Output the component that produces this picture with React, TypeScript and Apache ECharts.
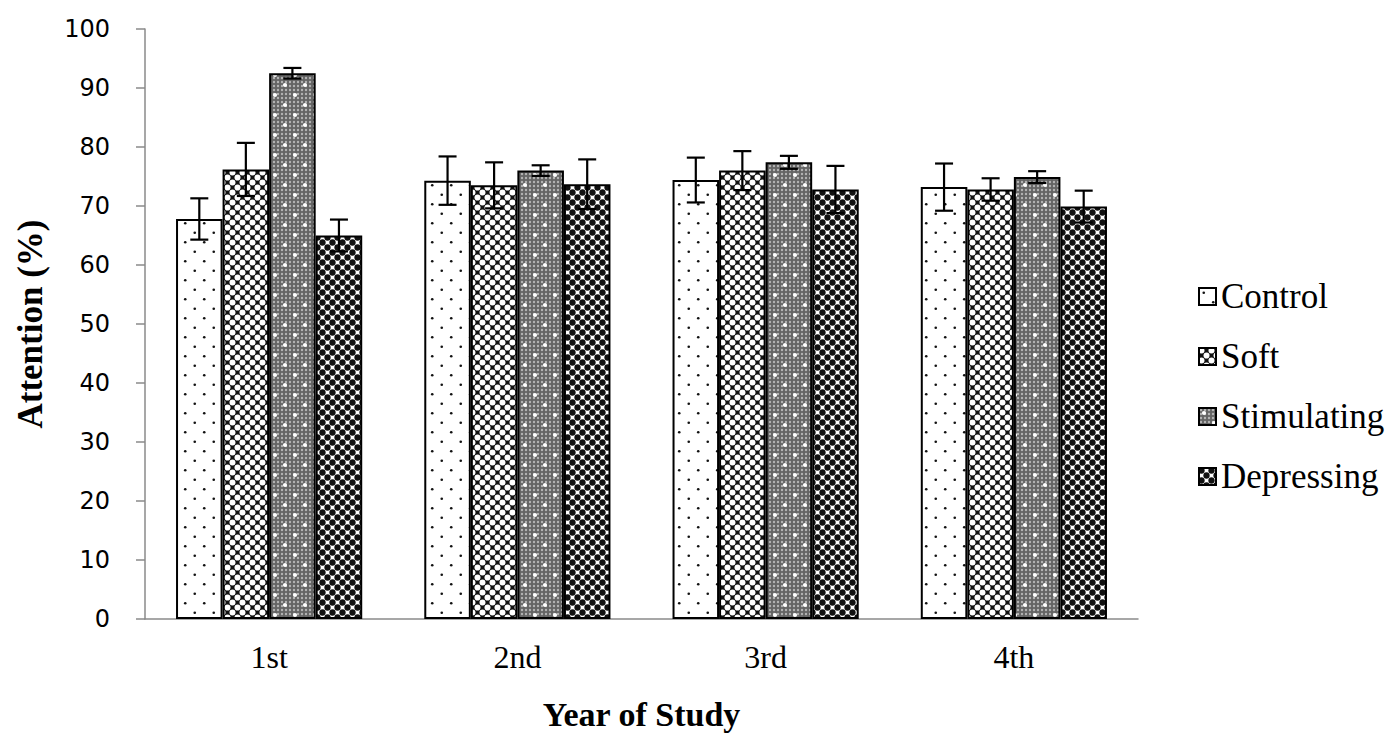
import React, { useEffect, useRef } from 'react';
import * as echarts from 'echarts';

const categories = ['1st', '2nd', '3rd', '4th'];
const seriesNames = ['Control', 'Soft', 'Stimulating', 'Depressing'];

const controlValues = [67.8, 74.3, 74.4, 73.2];
const controlErrors = [3.5, 4.1, 3.8, 4.0];
const softValues = [76.2, 73.5, 76.0, 72.8];
const softErrors = [4.5, 3.9, 3.3, 1.9];
const stimulatingValues = [92.5, 76.0, 77.4, 74.9];
const stimulatingErrors = [0.9, 0.9, 1.1, 1.0];
const depressingValues = [65.0, 73.7, 72.8, 69.9];
const depressingErrors = [2.7, 4.2, 4.0, 2.7];

const yTicks = { min: 0, max: 100, interval: 10 };

function makeTile(w: number, h: number, draw: (ctx: CanvasRenderingContext2D) => void) {
  const c = document.createElement('canvas');
  c.width = w;
  c.height = h;
  const ctx = c.getContext('2d')!;
  draw(ctx);
  return c;
}

function dotsWrapped(ctx: CanvasRenderingContext2D, pts: number[][], r: number, w: number, h: number) {
  for (const [px, py] of pts) {
    for (const dx of [-w, 0, w]) {
      for (const dy of [-h, 0, h]) {
        ctx.beginPath();
        ctx.arc(px + dx, py + dy, r, 0, Math.PI * 2);
        ctx.fill();
      }
    }
  }
}

function buildPatterns() {
  const control = makeTile(19, 19, (ctx) => {
    ctx.fillStyle = '#ffffff';
    ctx.fillRect(0, 0, 19, 19);
    ctx.fillStyle = '#111111';
    dotsWrapped(ctx, [[4.75, 4.75], [14.25, 14.25]], 1.3, 19, 19);
  });
  const soft = makeTile(10, 10, (ctx) => {
    ctx.fillStyle = '#111111';
    ctx.fillRect(0, 0, 10, 10);
    ctx.fillStyle = '#ffffff';
    dotsWrapped(ctx, [[2.5, 2.5], [7.5, 7.5]], 3.0, 10, 10);
  });
  const stimulating = makeTile(20, 20, (ctx) => {
    ctx.fillStyle = '#646464';
    ctx.fillRect(0, 0, 20, 20);
    ctx.fillStyle = '#b4b4b4';
    const pts: number[][] = [];
    for (let i = 0; i < 5; i++) {
      for (let j = 0; j < 5; j++) {
        pts.push([i * 4 + 2, j * 4 + 2]);
      }
    }
    dotsWrapped(ctx, pts, 1.2, 20, 20);
    ctx.fillStyle = '#ffffff';
    dotsWrapped(ctx, [[5, 5], [15, 15]], 2.1, 20, 20);
  });
  const depressing = makeTile(10, 10, (ctx) => {
    ctx.fillStyle = '#ffffff';
    ctx.fillRect(0, 0, 10, 10);
    ctx.fillStyle = '#111111';
    dotsWrapped(ctx, [[2.5, 2.5], [7.5, 7.5]], 3.15, 10, 10);
  });
  return [control, soft, stimulating, depressing];
}

export default function App() {
  const ref = useRef<HTMLDivElement>(null);

  useEffect(() => {
    const chart = echarts.init(ref.current!, null, { renderer: 'svg' });
    const patterns = buildPatterns();
    const values = [controlValues, softValues, stimulatingValues, depressingValues];
    const errors = [controlErrors, softErrors, stimulatingErrors, depressingErrors];
    const nSeries = seriesNames.length;
    const categoryGap = 0.25;

    const barSeries = seriesNames.map((name, i) => ({
      name,
      type: 'bar',
      data: values[i],
      barGap: '0%',
      barCategoryGap: '25%',
      z: 2,
      itemStyle: {
        color: { image: patterns[i], repeat: 'repeat' },
        borderColor: '#000',
        borderWidth: 2,
      },
    }));

    const errorSeries = seriesNames.map((name, i) => ({
      name: name + ' SE',
      type: 'custom',
      z: 10,
      silent: true,
      data: values[i].map((v, k) => [k, v, errors[i][k]]),
      encode: { x: 0, y: 1 },
      renderItem: (params: any, api: any) => {
        const xi = api.value(0);
        const v = api.value(1);
        const e = api.value(2);
        const base = api.coord([xi, v]);
        const band = api.size([1, 0])[0];
        const bw = (band * (1 - categoryGap)) / nSeries;
        const cx = base[0] + (i - (nSeries - 1) / 2) * bw;
        const top = api.coord([xi, v + e])[1];
        const bot = api.coord([xi, v - e])[1];
        const cap = 9;
        const st = { stroke: '#000', lineWidth: 2.2 };
        return {
          type: 'group',
          children: [
            { type: 'line', shape: { x1: cx, y1: top, x2: cx, y2: bot }, style: st },
            { type: 'line', shape: { x1: cx - cap, y1: top, x2: cx + cap, y2: top }, style: st },
            { type: 'line', shape: { x1: cx - cap, y1: bot, x2: cx + cap, y2: bot }, style: st },
          ],
        };
      },
    }));

    chart.setOption({
      animation: false,
      backgroundColor: '#ffffff',
      grid: { left: 145, right: 262, top: 29, bottom: 123, containLabel: false, outerBoundsMode: 'none' },
      legend: {
        data: seriesNames,
        orient: 'vertical',
        left: 1193,
        top: 274,
        itemWidth: 17,
        itemHeight: 17,
        itemGap: 25,
        icon: 'rect',
        textStyle: { fontFamily: 'Liberation Serif', fontSize: 35, color: '#000' },
      },
      xAxis: {
        type: 'category',
        data: categories,
        axisLine: { lineStyle: { color: '#8a8a8a', width: 1.5 } },
        axisTick: { show: false },
        axisLabel: { fontFamily: 'Liberation Serif', fontSize: 32, color: '#000', margin: 22 },
        name: 'Year of Study',
        nameLocation: 'middle',
        nameGap: 78,
        nameTextStyle: { fontFamily: 'Liberation Serif', fontWeight: 'bold', fontSize: 34, color: '#000' },
      },
      yAxis: {
        type: 'value',
        min: yTicks.min,
        max: yTicks.max,
        interval: yTicks.interval,
        splitLine: { show: false },
        axisLine: { show: true, lineStyle: { color: '#8a8a8a', width: 1.5 } },
        axisTick: { show: true, length: 9, lineStyle: { color: '#8a8a8a', width: 1.5 } },
        axisLabel: { fontFamily: 'DejaVu Sans', fontSize: 24, color: '#000', margin: 35 },
        name: 'Attention (%)',
        nameLocation: 'middle',
        nameGap: 97,
        nameTextStyle: { fontFamily: 'Liberation Serif', fontWeight: 'bold', fontSize: 35, color: '#000' },
      },
      series: [...barSeries, ...errorSeries],
    } as any);

    return () => chart.dispose();
  }, []);

  return (
    <div
      ref={ref}
      style={{ position: 'fixed', left: 0, top: 0, width: 1400, height: 742, background: '#fff' }}
    />
  );
}
